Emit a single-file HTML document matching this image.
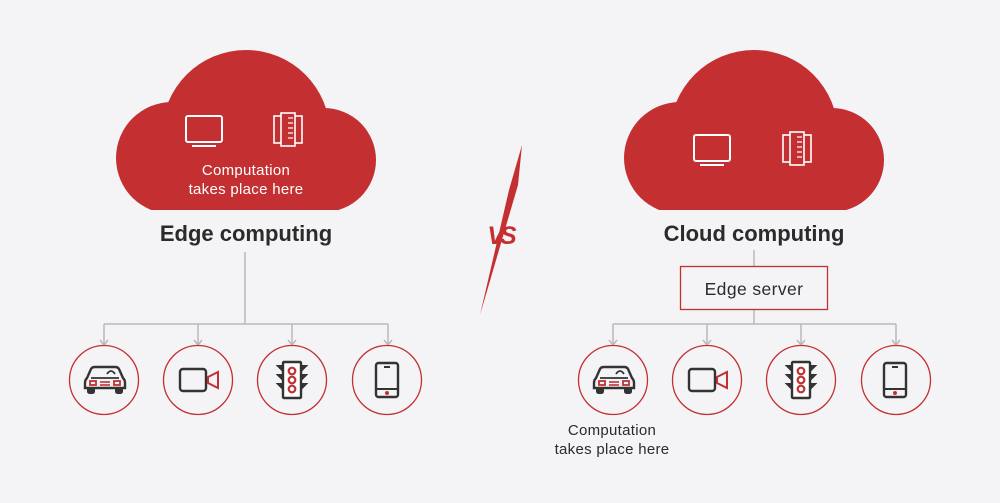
<!DOCTYPE html>
<html><head><meta charset="utf-8"><style>
html,body{margin:0;padding:0;background:#f4f4f6;}
svg{display:block;}
text{font-family:"Liberation Sans","DejaVu Sans",sans-serif;}
</style></head><body>
<svg width="1000" height="503" viewBox="0 0 1000 503" xmlns="http://www.w3.org/2000/svg">
<defs>
<clipPath id="cb"><rect x="0" y="0" width="1000" height="210"/></clipPath>
<g id="cloud">
  <circle cx="130" cy="134" r="84"/>
  <circle cx="56" cy="158" r="56"/>
  <circle cx="208" cy="160" r="52"/>
  <rect x="40" y="140" width="180" height="80"/>
</g>
<g id="mon" fill="none" stroke="#fff" stroke-width="2">
  <rect x="1" y="1" width="36" height="26" rx="2"/>
  <line x1="7" y1="31" x2="31" y2="31"/>
</g>
<g id="srv" fill="none" stroke="#fff" stroke-width="1.6">
  <rect x="1" y="3" width="28" height="27"/>
  <rect x="8" y="0" width="14" height="33" fill="#c43032"/>
  <g stroke-width="1.2"><line x1="15" y1="5" x2="20" y2="5"/><line x1="15" y1="10" x2="20" y2="10"/><line x1="15" y1="15" x2="20" y2="15"/><line x1="15" y1="20" x2="20" y2="20"/><line x1="15" y1="25" x2="20" y2="25"/></g>
</g>
<g id="car">
  <path d="M-18 -2 L-14 -11 Q-13 -13 -10 -13 L10 -13 Q13 -13 14 -11 L18 -2 Q20 0 20 3 L20 8 L-20 8 L-20 3 Q-20 0 -18 -2 Z" fill="none" stroke="#333" stroke-width="2.4"/>
  <path d="M-14 -2 L14 -2" stroke="#333" stroke-width="1.8"/>
  <path d="M2 -6 Q6 -12 10 -6" fill="none" stroke="#333" stroke-width="1.8"/>
  <rect x="-17" y="8" width="6" height="5" rx="1.5" fill="#333" stroke="#333" stroke-width="2"/>
  <rect x="11" y="8" width="6" height="5" rx="1.5" fill="#333" stroke="#333" stroke-width="2"/>
  <rect x="-15" y="1" width="6" height="4" fill="none" stroke="#c43032" stroke-width="1.8"/>
  <rect x="9" y="1" width="6" height="4" fill="none" stroke="#c43032" stroke-width="1.8"/>
  <line x1="-5" y1="2" x2="5" y2="2" stroke="#c43032" stroke-width="1.6"/>
  <line x1="-5" y1="5" x2="5" y2="5" stroke="#c43032" stroke-width="1.6"/>
</g>
<g id="cam">
  <rect x="-19" y="-11" width="26" height="22" rx="3" fill="none" stroke="#333" stroke-width="2.4"/>
  <path d="M9 -3 L19 -8 L19 8 L9 3 Z" fill="none" stroke="#c43032" stroke-width="2"/>
</g>
<g id="tl">
  <path d="M-14 -14 L-9 -14 L-9 -9 Z M-14 -5 L-9 -5 L-9 0 Z M-14 4 L-9 4 L-9 9 Z M14 -14 L9 -14 L9 -9 Z M14 -5 L9 -5 L9 0 Z M14 4 L9 4 L9 9 Z" fill="#333" stroke="#333" stroke-width="2"/>
  <rect x="-9" y="-18" width="18" height="36" rx="1" fill="#fff" stroke="#333" stroke-width="2.4"/>
  <circle cx="0" cy="-9" r="3.3" fill="none" stroke="#c43032" stroke-width="2.2"/>
  <circle cx="0" cy="0" r="3.3" fill="none" stroke="#c43032" stroke-width="2.2"/>
  <circle cx="0" cy="9" r="3.3" fill="none" stroke="#c43032" stroke-width="2.2"/>
</g>
<g id="ph">
  <rect x="-11" y="-17" width="22" height="34" rx="2.5" fill="none" stroke="#333" stroke-width="2.4"/>
  <line x1="-11" y1="9" x2="11" y2="9" stroke="#333" stroke-width="2"/>
  <line x1="-3" y1="-13" x2="3" y2="-13" stroke="#333" stroke-width="2"/>
  <circle cx="0" cy="13" r="2" fill="#c43032"/>
</g>
<g id="arr" fill="none" stroke="#b9b9bd" stroke-width="1.5"><path d="M-4 -5 L0 0 L4 -5"/></g>
</defs>

<g fill="#c43032" clip-path="url(#cb)"><use href="#cloud" transform="translate(116,0)"/></g>
<use href="#mon" transform="translate(185,115)"/>
<use href="#srv" transform="translate(273,113)"/>
<text x="246" y="175" text-anchor="middle" fill="#fff" font-size="15" letter-spacing="0.3">Computation</text>
<text x="246" y="194" text-anchor="middle" fill="#fff" font-size="15" letter-spacing="0.3">takes place here</text>
<text x="246" y="241" text-anchor="middle" fill="#2b2b2b" font-size="22" font-weight="bold">Edge computing</text>

<g fill="#c43032" clip-path="url(#cb)"><use href="#cloud" transform="translate(624,0)"/></g>
<use href="#mon" transform="translate(693,134)"/>
<use href="#srv" transform="translate(782,132)"/>
<text x="754" y="241" text-anchor="middle" fill="#2b2b2b" font-size="22" font-weight="bold">Cloud computing</text>

<polygon points="522,145 518,185 480,315 509,190" fill="#c43032"/>
<text x="500" y="244" text-anchor="middle" fill="#c43032" font-size="25" font-weight="bold" font-style="italic" letter-spacing="-4">VS</text>

<g stroke="#b9b9bd" stroke-width="1.5" fill="none">
  <line x1="245" y1="252" x2="245" y2="324"/>
  <line x1="104" y1="324" x2="388" y2="324"/>
  <line x1="104" y1="324" x2="104" y2="345"/>
  <line x1="198" y1="324" x2="198" y2="345"/>
  <line x1="292" y1="324" x2="292" y2="345"/>
  <line x1="388" y1="324" x2="388" y2="345"/>
  <line x1="754" y1="250" x2="754" y2="266"/>
  <line x1="754" y1="310" x2="754" y2="324"/>
  <line x1="613" y1="324" x2="896" y2="324"/>
  <line x1="613" y1="324" x2="613" y2="345"/>
  <line x1="707" y1="324" x2="707" y2="345"/>
  <line x1="801" y1="324" x2="801" y2="345"/>
  <line x1="896" y1="324" x2="896" y2="345"/>
</g>
<g>
  <use href="#arr" transform="translate(104,345)"/><use href="#arr" transform="translate(198,345)"/>
  <use href="#arr" transform="translate(292,345)"/><use href="#arr" transform="translate(388,345)"/>
  <use href="#arr" transform="translate(613,345)"/><use href="#arr" transform="translate(707,345)"/>
  <use href="#arr" transform="translate(801,345)"/><use href="#arr" transform="translate(896,345)"/>
</g>

<rect x="680.5" y="266.5" width="147" height="43" fill="none" stroke="#c43032" stroke-width="1.3"/>
<text x="754" y="295" text-anchor="middle" fill="#2b2b2b" font-size="17.5" letter-spacing="0.4">Edge server</text>

<g fill="none" stroke="#c43032" stroke-width="1.3">
  <circle cx="104" cy="380" r="34.5"/><circle cx="198" cy="380" r="34.5"/>
  <circle cx="292" cy="380" r="34.5"/><circle cx="387" cy="380" r="34.5"/>
  <circle cx="613" cy="380" r="34.5"/><circle cx="707" cy="380" r="34.5"/>
  <circle cx="801" cy="380" r="34.5"/><circle cx="896" cy="380" r="34.5"/>
</g>
<use href="#car" transform="translate(105,380)"/>
<use href="#cam" transform="translate(199,380)"/>
<use href="#tl" transform="translate(292,380)"/>
<use href="#ph" transform="translate(387,380)"/>
<use href="#car" transform="translate(614,380)"/>
<use href="#cam" transform="translate(708,380)"/>
<use href="#tl" transform="translate(801,380)"/>
<use href="#ph" transform="translate(895,380)"/>

<text x="612" y="435" text-anchor="middle" fill="#2b2b2b" font-size="15" letter-spacing="0.3">Computation</text>
<text x="612" y="454" text-anchor="middle" fill="#2b2b2b" font-size="15" letter-spacing="0.3">takes place here</text>
</svg>
</body></html>
